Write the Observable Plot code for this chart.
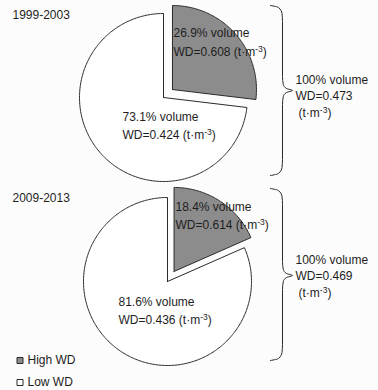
<!DOCTYPE html>
<html>
<head>
<meta charset="utf-8">
<script src="https://cdn.jsdelivr.net/npm/d3@7"></script>
<script src="https://cdn.jsdelivr.net/npm/@observablehq/plot@0.6"></script>
<style>
  html, body { margin: 0; padding: 0; background: #fcfcfc; }
  #chart svg { display: block; background: #fcfcfc; }
</style>
</head>
<body>
<div id="chart"></div>
<script>
// ---- data ----
const periods = ["1999-2003", "2009-2013"];
const categories = ["High WD", "Low WD"];
const highShare = [26.9, 18.4];   // % volume
const lowShare = [73.1, 81.6];    // % volume
const highWD = [0.608, 0.614];    // t·m-3
const lowWD = [0.424, 0.436];
const totalWD = [0.473, 0.469];
const colors = ["#8c8c8c", "#ffffff"];

// ---- layout (pixels) ----
const W = 378, H = 390, R = 84, EXPLODE = 12;
const layout = [
  {cx: 163, cy: 97, title: [12, 15], hi: [173, 33, 52], lo: [122, 117, 135],
   brace: {x: 282, tip: 292, top: 5, mid: 90, bottom: 175}, tot: [295, 80, 96, 113]},
  {cx: 167, cy: 281, title: [12, 198], hi: [175, 207, 225], lo: [118, 302, 320],
   brace: {x: 282, tip: 292, top: 188, mid: 275, bottom: 360}, tot: [295, 260, 276, 293]}
];
const unit = "(t·m⁻³)";

// ---- build slices via d3.pie ----
const pie = d3.pie().sort(null).startAngle(0).endAngle(2 * Math.PI);
const slicePts = [];
periods.forEach((p, i) => {
  const L = layout[i];
  const arcs = pie([highShare[i], lowShare[i]]);
  arcs.forEach((a, k) => {
    const off = k === 0 ? EXPLODE : 0;
    const am = (a.startAngle + a.endAngle) / 2;
    const ox = L.cx + off * Math.sin(am), oy = L.cy - off * Math.cos(am);
    const n = Math.max(2, Math.ceil((a.endAngle - a.startAngle) / (Math.PI / 180)));
    const id = p + "-" + categories[k];
    slicePts.push({id, cat: categories[k], x: ox, y: oy});
    for (let j = 0; j <= n; j++) {
      const t = a.startAngle + (a.endAngle - a.startAngle) * j / n;
      slicePts.push({id, cat: categories[k], x: ox + R * Math.sin(t), y: oy - R * Math.cos(t)});
    }
    slicePts.push({id, cat: categories[k], x: ox, y: oy});
  });
});

// ---- braces ----
const bracePts = [];
layout.forEach((L, i) => {
  const b = L.brace;
  const pts = [
    [b.x - 12, b.top], [b.x - 4, b.top + 2], [b.x - 0.5, b.top + 8], [b.x, b.top + 16],
    [b.x, b.mid - 14], [b.x + 0.8, b.mid - 6], [b.x + 4, b.mid - 2], [b.tip, b.mid],
    [b.x + 4, b.mid + 2], [b.x + 0.8, b.mid + 6], [b.x, b.mid + 14],
    [b.x, b.bottom - 16], [b.x - 0.5, b.bottom - 8], [b.x - 4, b.bottom - 2], [b.x - 12, b.bottom]
  ];
  pts.forEach(([x, y]) => bracePts.push({id: periods[i], x, y}));
});

// ---- text ----
const texts = [];
periods.forEach((p, i) => {
  const L = layout[i];
  texts.push({x: L.title[0], y: L.title[1], t: p});
  texts.push({x: L.hi[0], y: L.hi[1], t: `${highShare[i]}% volume`});
  texts.push({x: L.hi[0], y: L.hi[2], t: `WD=${highWD[i].toFixed(3)} ${unit}`});
  texts.push({x: L.lo[0], y: L.lo[1], t: `${lowShare[i]}% volume`});
  texts.push({x: L.lo[0], y: L.lo[2], t: `WD=${lowWD[i].toFixed(3)} ${unit}`});
  texts.push({x: L.tot[0], y: L.tot[1], t: `${highShare[i] + lowShare[i]}% volume`});
  texts.push({x: L.tot[0], y: L.tot[2], t: `WD=${totalWD[i].toFixed(3)}`});
  texts.push({x: L.tot[0] + 3, y: L.tot[3], t: unit});
});

// legend
const legend = categories.map((c, k) => ({cat: c, x: 19.5, y: 360 + k * 22}));

const chart = Plot.plot({
  width: W, height: H,
  margin: 0,
  x: {domain: [0, W], range: [0, W], axis: null},
  y: {domain: [0, H], range: [0, H], axis: null},
  color: {domain: categories, range: colors},
  style: {fontFamily: "Arial, 'Liberation Sans', sans-serif", background: "#fcfcfc"},
  marks: [
    Plot.line(slicePts, {x: "x", y: "y", z: "id", fill: "cat", stroke: "#2a2a2a", strokeWidth: 1, curve: "linear"}),
    Plot.line(bracePts, {x: "x", y: "y", z: "id", stroke: "#2a2a2a", strokeWidth: 1, curve: "monotone-y"}),
    Plot.text(texts, {x: "x", y: "y", text: "t", textAnchor: "start", lineAnchor: "middle", fontSize: 12, fill: "#1e1e1e"}),
    Plot.dot(legend, {x: "x", y: "y", symbol: "square", r: 3.4, fill: "cat", stroke: "#2a2a2a", strokeWidth: 1}),
    Plot.text(legend, {x: d => d.x + 7.5, y: "y", text: "cat", textAnchor: "start", lineAnchor: "middle", fontSize: 12, fill: "#1e1e1e"})
  ]
});

// render the unit exponent as a real superscript
const NS = "http://www.w3.org/2000/svg";
chart.querySelectorAll("text").forEach(el => {
  const s = el.textContent;
  if (!s.includes("⁻³")) return;
  const [before, after] = s.split("⁻³");
  while (el.firstChild) el.removeChild(el.firstChild);
  el.appendChild(document.createTextNode(before));
  const sup = document.createElementNS(NS, "tspan");
  sup.setAttribute("dy", "-4.5");
  sup.setAttribute("font-size", "8.5");
  sup.textContent = "-3";
  el.appendChild(sup);
  const rest = document.createElementNS(NS, "tspan");
  rest.setAttribute("dy", "4.5");
  rest.textContent = after;
  el.appendChild(rest);
});

document.getElementById("chart").appendChild(chart);
</script>
</body>
</html>
